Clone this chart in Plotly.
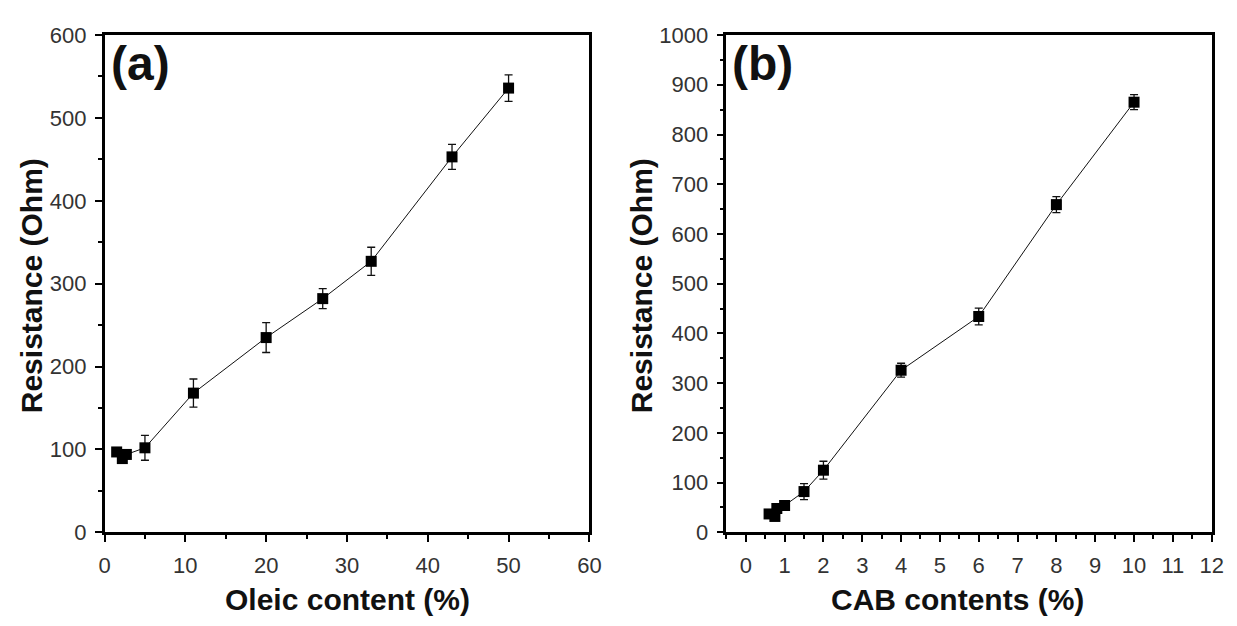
import plotly.graph_objects as go

# Panel (a): resistance vs oleic content
oleic_x = [1.5, 2.2, 2.7, 5, 11, 20, 27, 33, 43, 50]
oleic_y = [97, 89, 94, 102, 168, 235, 282, 327, 453, 536]
oleic_err = [5, 5, 5, 15, 17, 18, 12, 17, 15, 16]

# Panel (b): resistance vs CAB contents
cab_x = [0.6, 0.75, 0.8, 1.0, 1.5, 2, 4, 6, 8, 10]
cab_y = [37, 32, 48, 54, 82, 125, 326, 434, 659, 865]
cab_err = [4, 4, 4, 4, 16, 18, 14, 17, 16, 15]

W, H = 1237, 626
FONT = "Liberation Sans, Arial, sans-serif"

def px_x(p):
    return p / W

def px_y(p):
    return 1 - p / H

fig = go.Figure()

def add_series(x, y, err, xa, ya):
    fig.add_trace(go.Scatter(
        x=x, y=y, mode="lines+markers",
        line=dict(color="#111111", width=1),
        marker=dict(symbol="square", size=11, color="black"),
        error_y=dict(type="data", array=err, visible=True,
                     color="#111111", thickness=1.3, width=4),
        xaxis=xa, yaxis=ya, showlegend=False, cliponaxis=False,
    ))

add_series(oleic_x, oleic_y, oleic_err, "x", "y")
add_series(cab_x, cab_y, cab_err, "x2", "y2")

axis_common = dict(
    showline=True, linecolor="black", linewidth=2.5, mirror=True,
    ticks="outside", ticklen=7, tickwidth=2, tickcolor="black",
    showgrid=False, zeroline=False,
    tickfont=dict(family=FONT, size=22, color="#333333"),
    ticklabelstandoff=4,
)

fig.update_layout(
    width=W, height=H,
    margin=dict(l=0, r=0, t=0, b=0),
    paper_bgcolor="white", plot_bgcolor="white",
    xaxis=dict(domain=[px_x(100), px_x(592)], range=[0, 60], dtick=10,
               minor=dict(ticks="outside", ticklen=4, tickwidth=2, dtick=5, tickcolor="black"),
               anchor="y", **axis_common),
    yaxis=dict(domain=[px_y(542), px_y(24)], range=[0, 600], dtick=100,
               minor=dict(ticks="outside", ticklen=4, tickwidth=2, dtick=50, tickcolor="black"),
               anchor="x", **axis_common),
    xaxis2=dict(domain=[px_x(731), px_x(1223.5)], range=[-0.5, 12], dtick=1, tick0=0,
                minor=dict(ticks="outside", ticklen=4, tickwidth=2, dtick=0.5, tick0=0, tickcolor="black"),
                anchor="y2", **axis_common),
    yaxis2=dict(domain=[px_y(542), px_y(24)], range=[0, 1000], dtick=100,
                minor=dict(ticks="outside", ticklen=4, tickwidth=2, dtick=50, tickcolor="black"),
                anchor="x2", **axis_common),
)

title_font = dict(family=FONT, size=30, color="#111111")
annots = [
    dict(text="<b>Oleic content (%)</b>", x=px_x(347), y=px_y(612)),
    dict(text="<b>CAB contents (%)</b>", x=px_x(966), y=px_y(612)),
    dict(text="<b>Resistance (Ohm)</b>", x=px_x(26), y=px_y(285), textangle=-90),
    dict(text="<b>Resistance (Ohm)</b>", x=px_x(645), y=px_y(285), textangle=-90),
]
for a in annots:
    fig.add_annotation(xref="paper", yref="paper", showarrow=False,
                       xanchor="center", yanchor="middle", font=title_font, **a)

label_font = dict(family=FONT, size=48, color="#111111")
fig.add_annotation(text="<b>(a)</b>", xref="paper", yref="paper",
                   x=px_x(105), y=px_y(54), xanchor="left", yanchor="middle",
                   showarrow=False, font=label_font)
fig.add_annotation(text="<b>(b)</b>", xref="paper", yref="paper",
                   x=px_x(735), y=px_y(54), xanchor="left", yanchor="middle",
                   showarrow=False, font=label_font)

fig.write_html("out.html")
